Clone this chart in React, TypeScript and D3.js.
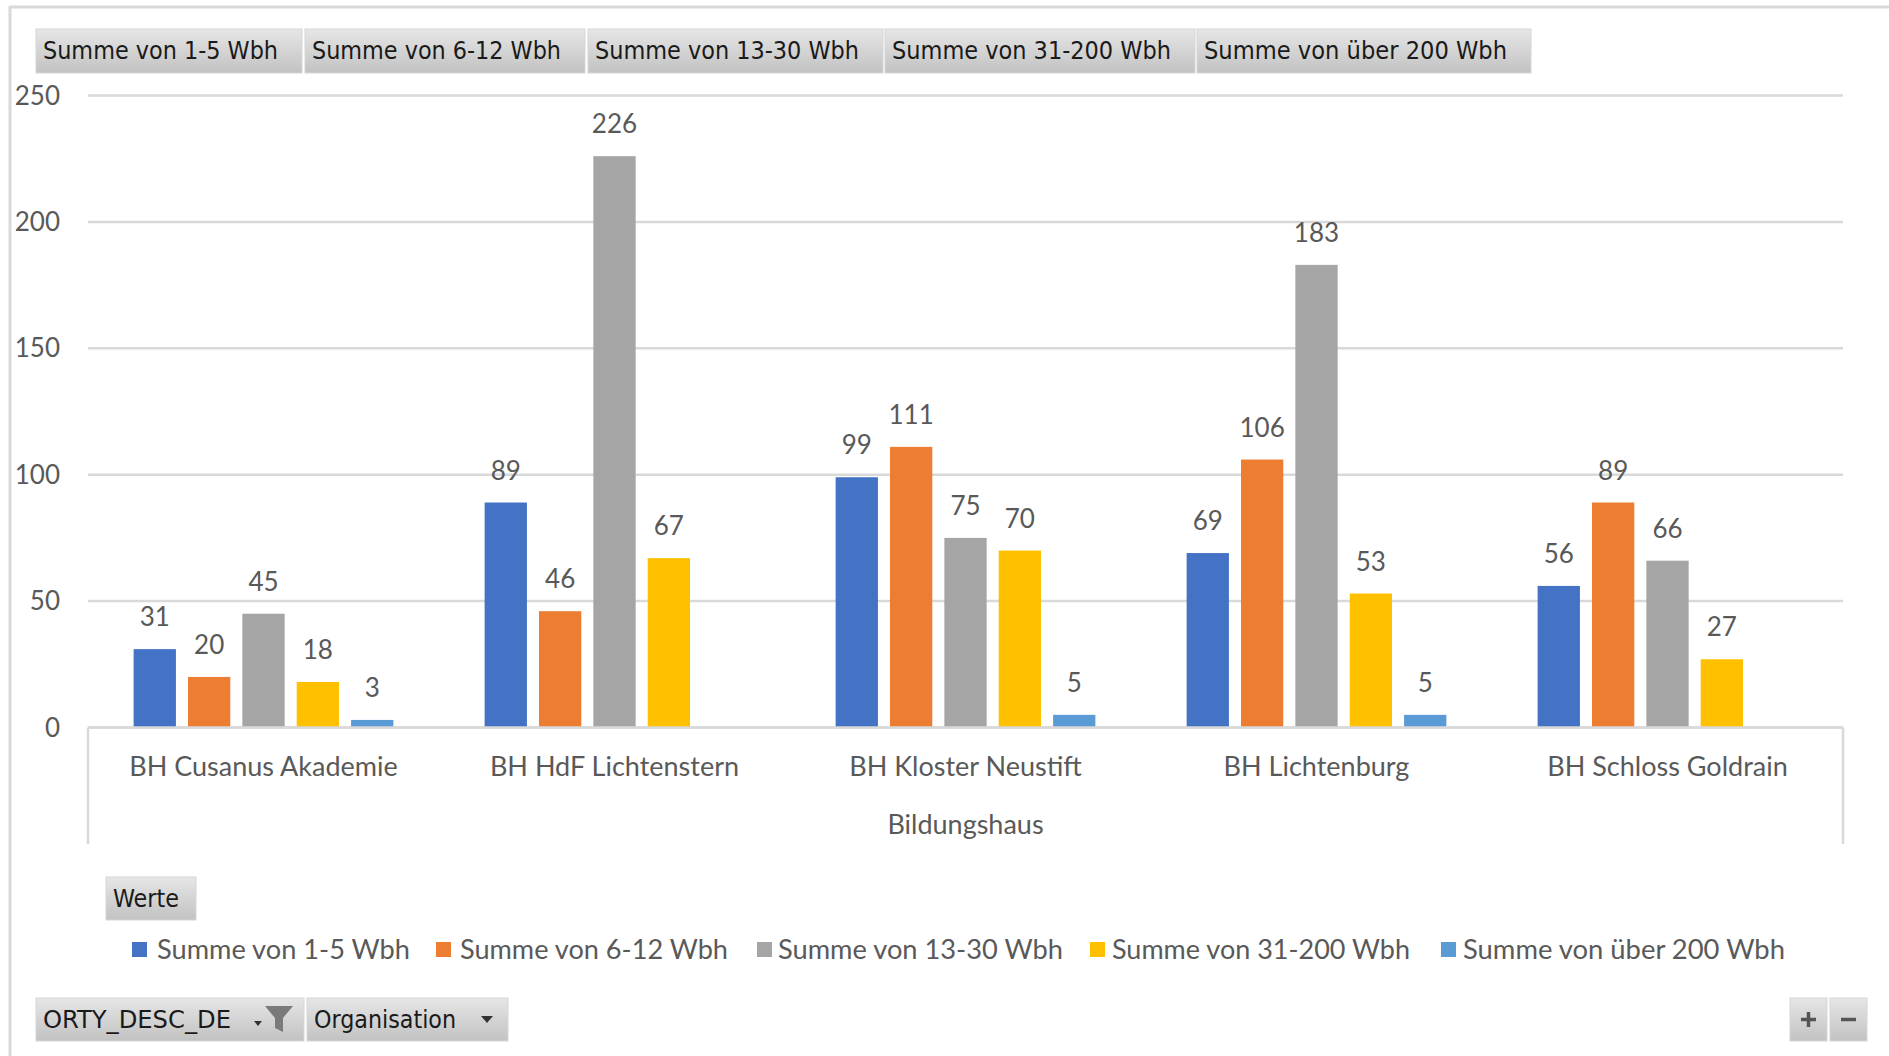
import React from "react";
import * as d3 from "d3";

const categories = [
  "BH Cusanus Akademie",
  "BH HdF Lichtenstern",
  "BH Kloster Neustift",
  "BH Lichtenburg",
  "BH Schloss Goldrain",
];
const seriesNames = [
  "Summe von 1-5 Wbh",
  "Summe von 6-12 Wbh",
  "Summe von 13-30 Wbh",
  "Summe von 31-200 Wbh",
  "Summe von über 200 Wbh",
];
const seriesColors = ["#4472C4", "#ED7D31", "#A5A5A5", "#FFC000", "#5B9BD5"];
const s1to5 = [31, 89, 99, 69, 56];
const s6to12 = [20, 46, 111, 106, 89];
const s13to30 = [45, 226, 75, 183, 66];
const s31to200 = [18, 67, 70, 53, 27];
const sOver200: (number | null)[] = [3, null, 5, 5, null];
const seriesValues = [s1to5, s6to12, s13to30, s31to200, sOver200];
const yTicks = [0, 50, 100, 150, 200, 250];
const axisTitle = "Bildungshaus";
const filterButtons = ["ORTY_DESC_DE", "Organisation"];
const valuesButton = "Werte";

const FONT = "Lato, 'Open Sans', sans-serif";
const BTN_FONT = "'DejaVu Sans Condensed', 'Liberation Sans Narrow', 'DejaVu Sans', sans-serif";
const TXT = "#595959";
const GRID = "#d9d9d9";

export default function App() {
  const W = 1889;
  const H = 1056;
  const plotL = 88;
  const plotR = 1843;
  const y = d3.scaleLinear().domain([0, 250]).range([727.5, 95.5]);
  const x0 = d3
    .scaleBand<string>()
    .domain(categories)
    .range([plotL, plotR])
    .paddingInner(0.26)
    .paddingOuter(0.13);
  const x1 = d3
    .scaleBand<string>()
    .domain(seriesNames)
    .range([0, x0.bandwidth()])
    .paddingInner(0.222);

  const headerBtns = [
    [36, 302],
    [305, 585],
    [588, 883],
    [885, 1195],
    [1197, 1531],
  ];
  const legendSq = [132, 436, 757, 1090, 1441];
  const legendTxt = [
    [157, 410],
    [460, 728],
    [778, 1063],
    [1112, 1410],
    [1463, 1785],
  ];

  return (
    <div style={{ position: "absolute", left: 0, top: 0 }}>
      <svg width={W} height={H} style={{ display: "block", background: "#fff" }}>
        <defs>
          <linearGradient id="btnGrad" x1="0" y1="0" x2="0" y2="1">
            <stop offset="0" stopColor="#e6e6e6" />
            <stop offset="1" stopColor="#c2c2c2" />
          </linearGradient>
        </defs>
        <line x1={10} x2={W} y1={7} y2={7} stroke={GRID} strokeWidth={3} />
        <line x1={10} x2={10} y1={6} y2={H} stroke={GRID} strokeWidth={3} />

        {headerBtns.map(([a, b], i) => (
          <g key={"hb" + i}>
            <rect x={a} y={29} width={b - a} height={44} fill="url(#btnGrad)" stroke="#d6d6d6" strokeWidth={1} />
            <text
              x={a + 7}
              y={59}
              fontFamily={BTN_FONT}
              fontSize={24}
              fill="#1a1a1a"
              textLength={b - a - 31}
              lengthAdjust="spacingAndGlyphs"
            >
              {seriesNames[i]}
            </text>
          </g>
        ))}

        {yTicks.map((t) => (
          <g key={"g" + t}>
            <line x1={plotL} x2={plotR} y1={y(t)} y2={y(t)} stroke={GRID} strokeWidth={2.5} />
            <text x={60} y={y(t)} dy="0.35em" textAnchor="end" fontFamily={FONT} fontSize={26} fill={TXT}>
              {t}
            </text>
          </g>
        ))}
        <line x1={plotL} x2={plotL} y1={y(0)} y2={844} stroke={GRID} strokeWidth={2.5} />
        <line x1={plotR} x2={plotR} y1={y(0)} y2={844} stroke={GRID} strokeWidth={2.5} />

        {categories.map((c, ci) => (
          <g key={c} transform={`translate(${x0(c)},0)`}>
            {seriesNames.map((s, si) => {
              const v = seriesValues[si][ci];
              if (v === null || v === undefined) return null;
              const bx = x1(s)!;
              return (
                <g key={s}>
                  <rect x={bx} y={y(v)} width={x1.bandwidth()} height={y(0) - y(v)} fill={seriesColors[si]} />
                  <text
                    x={bx + x1.bandwidth() / 2}
                    y={y(v) - 32}
                    dy="0.35em"
                    textAnchor="middle"
                    fontFamily={FONT}
                    fontSize={26}
                    fill={TXT}
                  >
                    {v}
                  </text>
                </g>
              );
            })}
          </g>
        ))}
        <line x1={plotL} x2={plotR} y1={y(0)} y2={y(0)} stroke={GRID} strokeWidth={2.5} />

        {categories.map((c) => (
          <text
            key={"cl" + c}
            x={x0(c)! + x0.bandwidth() / 2}
            y={767}
            dy="0.35em"
            textAnchor="middle"
            fontFamily={FONT}
            fontSize={27}
            fill={TXT}
          >
            {c}
          </text>
        ))}
        <text x={(plotL + plotR) / 2} y={825} dy="0.35em" textAnchor="middle" fontFamily={FONT} fontSize={27} fill={TXT}>
          {axisTitle}
        </text>

        <rect x={106} y={877} width={90} height={43} fill="url(#btnGrad)" stroke="#d6d6d6" />
        <text x={113} y={907} fontFamily={BTN_FONT} fontSize={24} fill="#1a1a1a" textLength={66} lengthAdjust="spacingAndGlyphs">
          {valuesButton}
        </text>

        {seriesNames.map((s, i) => (
          <g key={"lg" + s}>
            <rect x={legendSq[i]} y={942} width={15} height={15} fill={seriesColors[i]} />
            <text
              x={legendTxt[i][0]}
              y={949.5}
              dy="0.35em"
              fontFamily={FONT}
              fontSize={26}
              fill={TXT}
              textLength={legendTxt[i][1] - legendTxt[i][0]}
              lengthAdjust="spacingAndGlyphs"
            >
              {s}
            </text>
          </g>
        ))}

        <rect x={36} y={998} width={268} height={43} fill="url(#btnGrad)" stroke="#d6d6d6" />
        <text x={43} y={1028} fontFamily={BTN_FONT} fontSize={24} fill="#1a1a1a" textLength={188} lengthAdjust="spacingAndGlyphs">
          {filterButtons[0]}
        </text>
        <path d="M254,1021 h8 l-4,5 z" fill="#333" />
        <path d="M265,1006 h28 l-10,12 v14 l-8,-4 v-10 z" fill="#7a7a7a" />
        <rect x={307} y={998} width={201} height={43} fill="url(#btnGrad)" stroke="#d6d6d6" />
        <text x={314} y={1028} fontFamily={BTN_FONT} fontSize={24} fill="#1a1a1a" textLength={142} lengthAdjust="spacingAndGlyphs">
          {filterButtons[1]}
        </text>
        <path d="M481,1016 h12 l-6,7 z" fill="#333" />

        <rect x={1790} y={998} width={37} height={43} fill="url(#btnGrad)" stroke="#d6d6d6" />
        <rect x={1830} y={998} width={37} height={43} fill="url(#btnGrad)" stroke="#d6d6d6" />
        <path d="M1801,1019.5 h15 M1808.5,1012 v15" stroke="#555" strokeWidth={3.5} />
        <path d="M1841,1019.5 h15" stroke="#555" strokeWidth={3.5} />
      </svg>
    </div>
  );
}
